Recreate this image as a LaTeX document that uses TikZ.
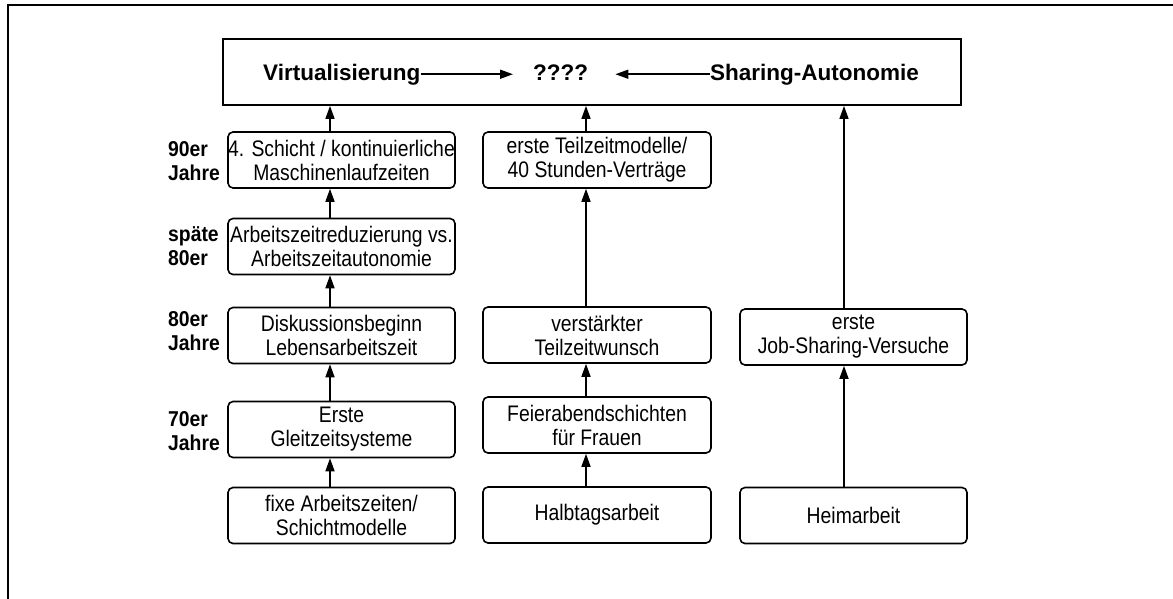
\documentclass[tikz,border=0pt]{standalone}
\usepackage{fontspec}
\setmainfont{Liberation Sans}
\newfontfamily\narrow[FakeStretch=0.86]{Liberation Sans}
\newfontfamily\narrowyear[FakeStretch=0.9]{Liberation Sans}
\usetikzlibrary{arrows.meta,calc}

\tikzset{
  box/.style={draw, line width=1.6pt, rounded corners=5pt, minimum height=56pt,
    minimum width=227pt, align=center, inner sep=0pt,
    font=\narrow\fontsize{22.5}{24}\selectfont},
  topbox/.style={draw, line width=1.8pt, minimum width=738pt, minimum height=66pt, inner sep=0pt},
  head/.style={anchor=base west, inner sep=0pt, font=\bfseries\fontsize{22.5}{27}\selectfont},
  year/.style={anchor=west, align=left, inner sep=0pt,
    font=\narrowyear\bfseries\fontsize{21.5}{24}\selectfont},
  arr/.style={line width=1.6pt, -{Triangle[length=13pt,width=9pt]}},
  frame/.style={line width=2pt}
}

\begin{document}
\begin{tikzpicture}[x=1pt,y=-1pt]
  \useasboundingbox (0,0) rectangle (1173,598);
  \clip (0,0) rectangle (1173,598);

  % outer frame (continues beyond the visible area)
  \draw[frame] (8,5) rectangle (1200,630);

  % columns of the arrows
  \coordinate (ax1) at (330,0);
  \coordinate (ax2) at (586,0);
  \coordinate (ax3) at (844,0);

  % goal box
  \node[topbox] (top) at (592,72) {};
  \node[head] (virt) at (263,80) {Virtualisierung};
  \node[head] (qq) at (533,80) {????};
  \node[head] (share) at (710,80) {Sharing-Autonomie};
  \draw[arr] (virt.east) -- ($(virt.east -| qq.west)+(-20,0)$);
  \draw[arr] (share.west) -- ($(share.west -| qq.east)+(27,0)$);

  % working-time column
  \node[box] (c1a) at (341.5,160) {4. Schicht / kontinuierliche\\Maschinenlaufzeiten};
  \node[box] (c1b) at (341.5,246.5) {Arbeitszeitreduzierung vs.\\Arbeitszeitautonomie};
  \node[box] (c1c) at (341.5,335.5) {Diskussionsbeginn\\Lebensarbeitszeit};
  \node[box] (c1d) at (341.5,429.5) {Erste\\Gleitzeitsysteme};
  \node[box] (c1e) at (341.5,515.5) {fixe Arbeitszeiten/\\Schichtmodelle};

  % part-time column
  \node[box, minimum width=228pt] (c2a) at (597,160) {erste Teilzeitmodelle/\\40 Stunden-Verträge};
  \node[box, minimum width=228pt] (c2c) at (597,335) {verstärkter\\Teilzeitwunsch};
  \node[box, minimum width=228pt] (c2d) at (597,425) {Feierabendschichten\\für Frauen};
  \node[box, minimum width=228pt] (c2e) at (597,515) {Halbtagsarbeit};

  % home-work column
  \node[box] (c3c) at (853.5,337) {erste\\Job-Sharing-Versuche};
  \node[box] (c3e) at (853.5,515.5) {Heimarbeit};

  % decades
  \node[year] (y90) at (168,161.5) {90er\\Jahre};
  \node[year] (y85) at (168,246.5) {späte\\80er};
  \node[year] (y80) at (168,331) {80er\\Jahre};
  \node[year] (y70) at (168,431) {70er\\Jahre};

  % connectors
  \draw[arr] (c1e.north -| ax1) -- (c1d.south -| ax1);
  \draw[arr] (c1d.north -| ax1) -- (c1c.south -| ax1);
  \draw[arr] (c1c.north -| ax1) -- (c1b.south -| ax1);
  \draw[arr] (c1b.north -| ax1) -- (c1a.south -| ax1);
  \draw[arr] (c1a.north -| ax1) -- (top.south -| ax1);

  \draw[arr] (c2e.north -| ax2) -- (c2d.south -| ax2);
  \draw[arr] (c2d.north -| ax2) -- (c2c.south -| ax2);
  \draw[arr] (c2c.north -| ax2) -- (c2a.south -| ax2);
  \draw[arr] (c2a.north -| ax2) -- (top.south -| ax2);

  \draw[arr] (c3e.north -| ax3) -- (c3c.south -| ax3);
  \draw[arr] (c3c.north -| ax3) -- (top.south -| ax3);
\end{tikzpicture}
\end{document}
